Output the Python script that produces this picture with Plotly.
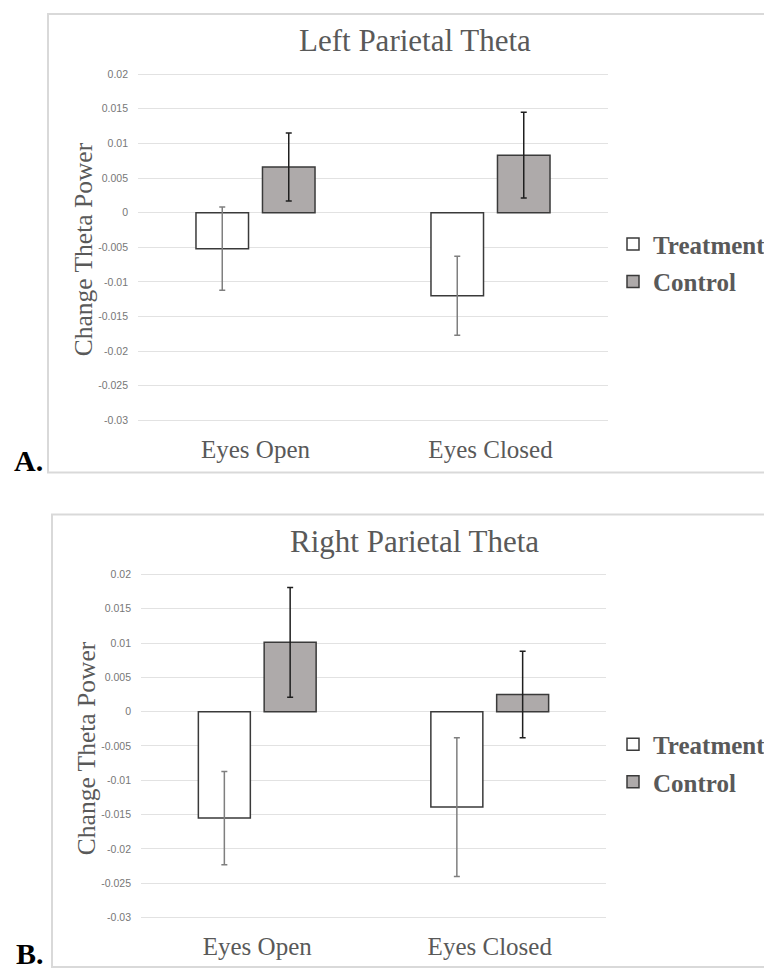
import plotly.graph_objects as go

# ---------------- data ----------------
categories = ["Eyes Open", "Eyes Closed"]
series_names = ["Treatment", "Control"]

left_treatment = [-0.0052, -0.0120]
left_treatment_err = [0.0060, 0.0057]
left_control = [0.0066, 0.0083]
left_control_err = [0.0049, 0.0062]

right_treatment = [-0.0155, -0.0139]
right_treatment_err = [0.0068, 0.0101]
right_control = [0.0101, 0.0025]
right_control_err = [0.0080, 0.0063]

panel_titles = ["Left Parietal Theta", "Right Parietal Theta"]
panel_letters = ["A.", "B."]
y_title = "Change Theta Power"
y_tickvals = [0.02, 0.015, 0.01, 0.005, 0, -0.005, -0.01, -0.015, -0.02, -0.025, -0.03]
y_ticktext = ["0.02", "0.015", "0.01", "0.005", "0", "-0.005", "-0.01", "-0.015", "-0.02", "-0.025", "-0.03"]

# ---------------- layout helpers ----------------
W, H = 772, 971
OFF = 8  # the page body has an 8px margin, so the figure starts at (8, 8)


def px(x):
    return (x - OFF) / W


def py(y):
    return 1 - (y - OFF) / H


SERIF = "Liberation Serif, Times New Roman, serif"
SANS = "Liberation Sans, Arial, sans-serif"
TXT = "#595959"
TREAT_FILL = "#FFFFFF"
CTRL_FILL = "#AEAAAA"
OUTLINE = "#3A3A3A"

fig = go.Figure()

panels = [
    dict(t=left_treatment, te=left_treatment_err, c=left_control, ce=left_control_err,
         xa="x", ya="y", legend="legend"),
    dict(t=right_treatment, te=right_treatment_err, c=right_control, ce=right_control_err,
         xa="x2", ya="y2", legend="legend2"),
]

for i, p in enumerate(panels):
    fig.add_trace(go.Bar(
        x=categories, y=p["t"], name=series_names[0],
        marker=dict(color=TREAT_FILL, line=dict(color=OUTLINE, width=1.5)),
        error_y=dict(type="data", array=p["te"], symmetric=True,
                     color="#7F7F7F", thickness=1.5, width=3),
        xaxis=p["xa"], yaxis=p["ya"], legend=p["legend"],
        legendgroup=f"t{i}", showlegend=True,
    ))
    fig.add_trace(go.Bar(
        x=categories, y=p["c"], name=series_names[1],
        marker=dict(color=CTRL_FILL, line=dict(color=OUTLINE, width=1.5)),
        error_y=dict(type="data", array=p["ce"], symmetric=True,
                     color="#1F1F1F", thickness=1.5, width=3),
        xaxis=p["xa"], yaxis=p["ya"], legend=p["legend"],
        legendgroup=f"c{i}", showlegend=True,
    ))

yaxis_common = dict(
    range=[-0.0305, 0.0205],
    tickmode="array", tickvals=y_tickvals, ticktext=y_ticktext,
    tickfont=dict(family=SANS, size=10.5, color="#777777"),
    showgrid=True, gridcolor="#E2E2E2", gridwidth=1,
    zeroline=False, showline=False, ticks="",
    ticklabelstandoff=9, fixedrange=True,
)
xaxis_common = dict(
    type="category",
    tickfont=dict(family=SERIF, size=25, color=TXT),
    showgrid=False, zeroline=False, showline=False, ticks="",
    ticklabelstandoff=8, fixedrange=True,
)

legend_common = dict(
    font=dict(family=SERIF, size=25, color=TXT, weight="bold"),
    bgcolor="rgba(0,0,0,0)", borderwidth=0,
    xanchor="left", yanchor="middle", tracegroupgap=2,
    itemwidth=30, traceorder="grouped",
)

fig.update_layout(
    width=W, height=H,
    margin=dict(l=0, r=0, t=0, b=0),
    paper_bgcolor="white", plot_bgcolor="white",
    barmode="group", bargap=0.434, bargroupgap=0.21,
    showlegend=True,
    xaxis=dict(domain=[px(138), px(608)], anchor="y", **xaxis_common),
    yaxis=dict(domain=[py(423.0), py(68.0)], anchor="x", **yaxis_common),
    xaxis2=dict(domain=[px(141), px(606)], anchor="y2", **xaxis_common),
    yaxis2=dict(domain=[py(922.75), py(570.85)], anchor="x2", **yaxis_common),
    legend=dict(x=px(613), y=py(261), **legend_common),
    legend2=dict(x=px(613), y=py(764), **legend_common),
)

# panel frames
fig.add_shape(type="rect", xref="paper", yref="paper",
              x0=px(48), x1=px(800), y0=py(472), y1=py(11),
              line=dict(color="#D9D9D9", width=2), fillcolor="rgba(0,0,0,0)", layer="below")
fig.add_shape(type="rect", xref="paper", yref="paper",
              x0=px(52), x1=px(800), y0=py(969), y1=py(514),
              line=dict(color="#D9D9D9", width=2), fillcolor="rgba(0,0,0,0)", layer="below")

# titles
for title, ycen in zip(panel_titles, [38, 541]):
    fig.add_annotation(text=title, xref="paper", yref="paper",
                       x=px(414.5), y=py(ycen), xanchor="center", yanchor="middle",
                       showarrow=False, font=dict(family=SERIF, size=31, color=TXT))

# y-axis titles
for xc, yc in [(83, 247.5), (86, 749)]:
    fig.add_annotation(text=y_title, xref="paper", yref="paper",
                       x=px(xc), y=py(yc), xanchor="center", yanchor="middle",
                       textangle=-90, showarrow=False,
                       font=dict(family=SERIF, size=25.5, color=TXT))

# panel letters
for letter, (xc, yc) in zip(panel_letters, [(28, 460), (30, 955)]):
    fig.add_annotation(text=f"<b>{letter}</b>", xref="paper", yref="paper",
                       x=px(xc), y=py(yc), xanchor="center", yanchor="middle",
                       showarrow=False, font=dict(family=SERIF, size=30, color="#000000"))

fig.write_html("out.html")
